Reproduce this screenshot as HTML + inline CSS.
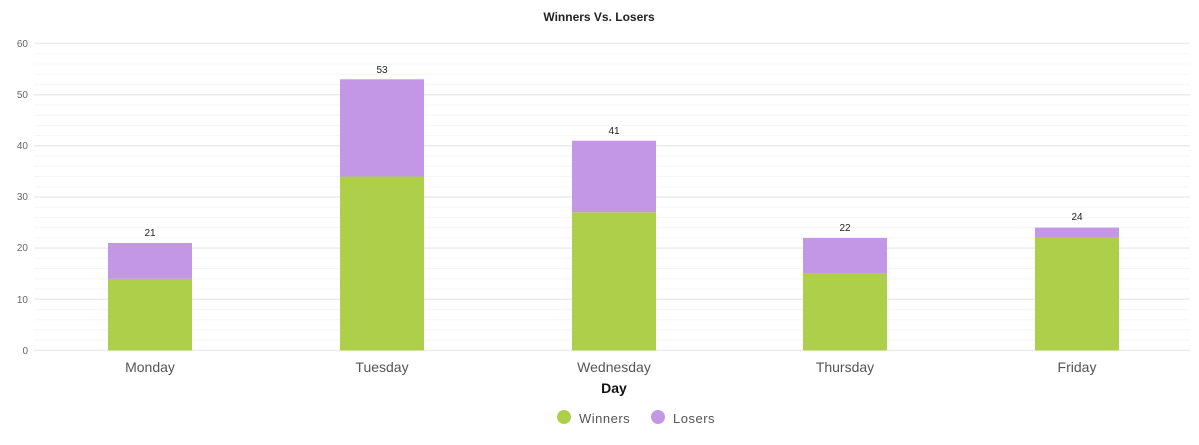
<!DOCTYPE html>
<html><head><style>body{margin:0;background:#fff}svg{display:block}</style></head><body>
<svg width="1199" height="445" xmlns="http://www.w3.org/2000/svg" font-family="Liberation Sans, sans-serif">
<text x="599" y="21" text-anchor="middle" font-size="12" font-weight="bold" fill="#222">Winners Vs. Losers</text>
<g stroke="#f5f5f5" stroke-width="1">
<line x1="34" x2="1190" y1="53.7" y2="53.7"/><line x1="34" x2="1190" y1="64" y2="64"/><line x1="34" x2="1190" y1="74.2" y2="74.2"/><line x1="34" x2="1190" y1="84.4" y2="84.4"/>
<line x1="34" x2="1190" y1="105" y2="105"/><line x1="34" x2="1190" y1="115.2" y2="115.2"/><line x1="34" x2="1190" y1="125.4" y2="125.4"/><line x1="34" x2="1190" y1="135.6" y2="135.6"/>
<line x1="34" x2="1190" y1="156" y2="156"/><line x1="34" x2="1190" y1="166.3" y2="166.3"/><line x1="34" x2="1190" y1="176.5" y2="176.5"/><line x1="34" x2="1190" y1="186.7" y2="186.7"/>
<line x1="34" x2="1190" y1="207.2" y2="207.2"/><line x1="34" x2="1190" y1="217.4" y2="217.4"/><line x1="34" x2="1190" y1="227.6" y2="227.6"/><line x1="34" x2="1190" y1="237.9" y2="237.9"/>
<line x1="34" x2="1190" y1="258.3" y2="258.3"/><line x1="34" x2="1190" y1="268.5" y2="268.5"/><line x1="34" x2="1190" y1="278.8" y2="278.8"/><line x1="34" x2="1190" y1="289" y2="289"/>
<line x1="34" x2="1190" y1="309.4" y2="309.4"/><line x1="34" x2="1190" y1="319.7" y2="319.7"/><line x1="34" x2="1190" y1="329.9" y2="329.9"/><line x1="34" x2="1190" y1="340.1" y2="340.1"/>
</g>
<g stroke="#ebebeb" stroke-width="1.5">
<line x1="34" x2="1190" y1="43.5" y2="43.5"/><line x1="34" x2="1190" y1="94.7" y2="94.7"/><line x1="34" x2="1190" y1="145.8" y2="145.8"/><line x1="34" x2="1190" y1="197" y2="197"/><line x1="34" x2="1190" y1="248.1" y2="248.1"/><line x1="34" x2="1190" y1="299.3" y2="299.3"/><line x1="34" x2="1190" y1="350.4" y2="350.4"/>
</g>
<g font-size="10" fill="#666" text-anchor="end">
<text x="28" y="47">60</text><text x="28" y="98">50</text><text x="28" y="149">40</text><text x="28" y="200">30</text><text x="28" y="251">20</text><text x="28" y="303">10</text><text x="28" y="354">0</text>
</g>
<g>
<rect x="108" y="278.8" width="84" height="71.6" fill="#aecf4a"/><rect x="108" y="243" width="84" height="35.8" fill="#c396e6"/>
<rect x="340" y="176.5" width="84" height="173.9" fill="#aecf4a"/><rect x="340" y="79.3" width="84" height="97.2" fill="#c396e6"/>
<rect x="572" y="212.3" width="84" height="138.1" fill="#aecf4a"/><rect x="572" y="140.7" width="84" height="71.6" fill="#c396e6"/>
<rect x="803" y="273.7" width="84" height="76.7" fill="#aecf4a"/><rect x="803" y="237.9" width="84" height="35.8" fill="#c396e6"/>
<rect x="1035" y="237.9" width="84" height="112.5" fill="#aecf4a"/><rect x="1035" y="227.6" width="84" height="10.3" fill="#c396e6"/>
</g>
<g font-size="10" fill="#222" text-anchor="middle">
<text x="150" y="236">21</text><text x="382" y="73">53</text><text x="614" y="134">41</text><text x="845" y="231">22</text><text x="1077" y="220">24</text>
</g>
<g font-size="14" fill="#555" text-anchor="middle">
<text x="150" y="372">Monday</text><text x="382" y="372">Tuesday</text><text x="614" y="372">Wednesday</text><text x="845" y="372">Thursday</text><text x="1077" y="372">Friday</text>
</g>
<text x="614" y="393" text-anchor="middle" font-size="14" font-weight="bold" fill="#111">Day</text>
<circle cx="564" cy="417" r="7" fill="#aecf4a"/>
<text x="579" y="423" font-size="13" fill="#555" letter-spacing="0.5">Winners</text>
<circle cx="658" cy="417" r="7" fill="#c396e6"/>
<text x="673" y="423" font-size="13" fill="#555" letter-spacing="0.5">Losers</text>
</svg>
</body></html>
